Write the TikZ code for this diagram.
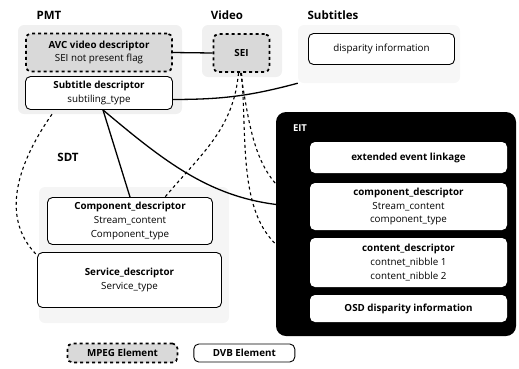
\documentclass[tikz,border=0pt]{standalone}
\usepackage{fontspec}
\setmainfont{Open Sans}
\usetikzlibrary{positioning}

\begin{document}
\begin{tikzpicture}[
  x=1pt, y=-1pt,
  font=\fontsize{9.8}{13.8}\selectfont,
  panel/.style={fill=gray!12, rounded corners=6pt, inner sep=0pt},
  title/.style={font=\fontsize{11.5}{13}\selectfont\bfseries},
  mpeg/.style={draw, line width=1.7pt, dashed, rounded corners=5pt, fill=gray!30, align=center, inner sep=1pt},
  dvb/.style={draw, line width=0.9pt, rounded corners=5pt, fill=white, align=center, inner sep=1pt},
  eitbox/.style={fill=white, rounded corners=5pt, align=center, inner sep=1pt, minimum width=197pt},
  link/.style={line width=1.3pt},
  dlink/.style={line width=1.1pt, dashed}
]
\useasboundingbox (0,0) rectangle (519,368);

% grey groups
\node[panel, minimum width=164pt, minimum height=89pt] (pmtpanel) at (100,69.5) {};
\node[panel, minimum width=80pt, minimum height=52pt] (videopanel) at (242,51) {};
\node[panel, fill=gray!6, minimum width=162pt, minimum height=58pt] (subpanel) at (379,54) {};
\node[panel, fill=gray!8, minimum width=190pt, minimum height=136pt] (sdtpanel) at (134,255) {};

\node[title] (pmt) at (49,15) {PMT};
\node[title] (video) at (227,15) {Video};
\node[title] (subtitles) at (333,15) {Subtitles};
\node[title] (sdt) at (68,157) {SDT};

% PMT / Video / Subtitles
\node[mpeg, minimum width=146pt, minimum height=38pt] (avc) at (99,52.5)
  {\textbf{AVC video descriptor}\\SEI not present flag};
\node[dvb, minimum width=147pt, minimum height=33pt] (subdesc) at (99,93)
  {\textbf{Subtitle descriptor}\\subtiling\_type};
\node[mpeg, minimum width=56pt, minimum height=38pt] (sei) at (241.5,53) {\textbf{SEI}};
\node[dvb, minimum width=146pt, minimum height=31pt] (disp) at (381.5,49) {disparity information};

% SDT
\node[dvb, minimum width=165pt, minimum height=47pt] (sdtcomp) at (130,221)
  {\textbf{Component\_descriptor}\\Stream\_content\\Component\_type};
\node[dvb, minimum width=184pt, minimum height=55pt] (sdtserv) at (129.5,280)
  {\textbf{Service\_descriptor}\\Service\_type};

% EIT
\node[fill=black, rounded corners=10pt, minimum width=240pt, minimum height=224pt] (eit) at (396,224) {};
\node[font=\fontsize{9.5}{11}\selectfont\bfseries, text=white] (eitlabel) at (300,128) {EIT};
\node[eitbox, minimum height=31pt] (ext) at (408.5,157.5) {\textbf{extended event linkage}};
\node[eitbox, minimum height=47pt] (eitcomp) at (408.5,206.5)
  {\textbf{component\_descriptor}\\Stream\_content\\component\_type};
\node[eitbox, minimum height=49pt] (content) at (408.5,262.5)
  {\textbf{content\_descriptor}\\contnet\_nibble 1\\content\_nibble 2};
\node[eitbox, minimum height=27pt] (osd) at (408.5,308.5) {\textbf{OSD disparity information}};

% legend
\node[mpeg, minimum width=110pt, minimum height=19pt] (mpegkey) at (122.5,353) {\textbf{MPEG Element}};
\node[dvb, minimum width=101pt, minimum height=18pt, right=15pt of mpegkey] (dvbkey) {\textbf{DVB Element}};

% links
\draw[link] (avc.east) -- (sei.west);
\draw[link] (subdesc.-5) to[out=0, in=195] (subpanel.south west);
\draw[link] ([xshift=4pt]subdesc.south) -- (sdtcomp.north);
\draw[link] ([xshift=4pt]subdesc.south) to[out=-40, in=180] (eitcomp.west);
\draw[dlink] ([xshift=-3pt]sei.south) to[out=-95, in=50] ([xshift=35pt]sdtcomp.north);
\draw[dlink] ([xshift=-1pt]sei.south) to[out=-80, in=160] (eitcomp.west);
\draw[dlink] (sei.south) to[out=-85, in=165] (content.west);
\draw[dlink] ([xshift=-48pt]pmtpanel.south) to[out=-125, in=135] (sdtserv.165);

\end{tikzpicture}
\end{document}
